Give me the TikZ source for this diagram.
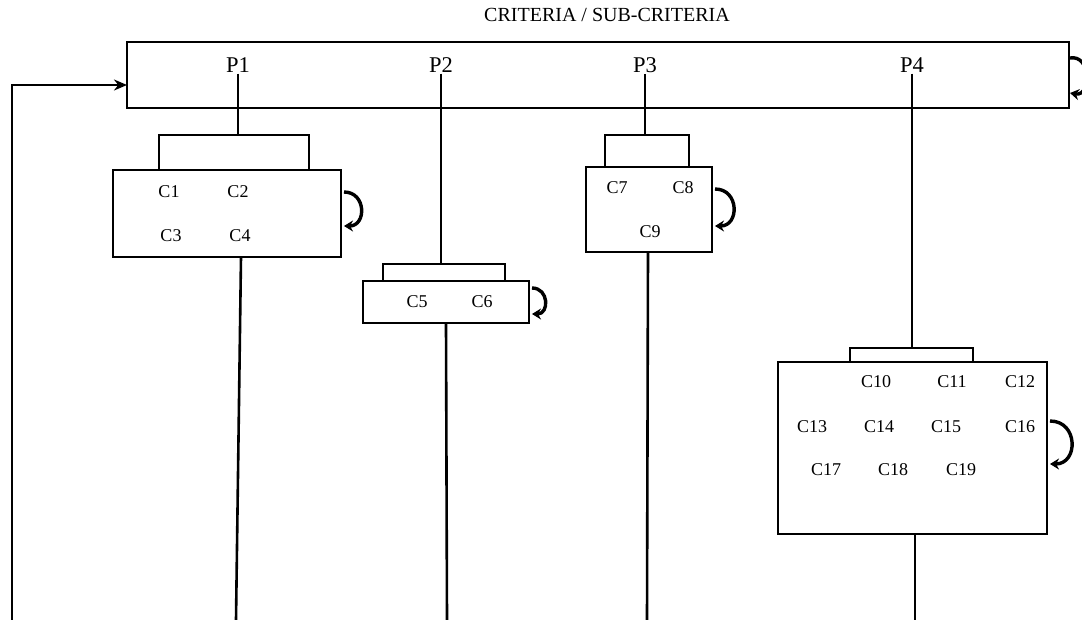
\documentclass[tikz,border=0pt]{standalone}
\usepackage{fontspec}
\setmainfont{Liberation Serif}
\usetikzlibrary{arrows.meta}
\begin{document}
\begin{tikzpicture}[x=1pt,y=-1pt,
  box/.style={draw,line width=2pt,minimum width=#1,inner sep=0pt},
  lbl/.style={font=\fontsize{18}{18}\selectfont,inner sep=1pt},
  plbl/.style={font=\fontsize{22.5}{22.5}\selectfont,inner sep=1pt},
  link/.style={line width=2.6pt},
  selfloop/.style={line width=3.4pt,-{Stealth[length=9pt,width=11pt]}},
  feed/.style={line width=2.6pt,-{Stealth[length=13pt,width=11pt]}}]
\useasboundingbox (0,0) rectangle (1082,620);
% title
\node[font=\fontsize{20}{20}\selectfont] (title) at (607,15) {CRITERIA / SUB-CRITERIA};
% main box
\node[box=942pt,minimum height=66pt] (main) at (598,75) {};
\node[plbl] (P1) at (238,65) {P1};
\node[plbl] (P2) at (441,65) {P2};
\node[plbl] (P3) at (645,65) {P3};
\node[plbl] (P4) at (912,65) {P4};
\draw[selfloop] (1070,58) to[out=10,in=-10,looseness=1.6] (1070,93);
% feedback arrow
\coordinate (fb) at (12,620);
\coordinate (mainin) at (127,85);
\draw[feed] (fb) |- (mainin);
% boxes
\node[box=228pt,minimum height=87pt] (b1) at (227,213.5) {};
\node[box=166pt,minimum height=42pt] (b2) at (446,302) {};
\node[box=126pt,minimum height=85pt] (b3) at (649,209.5) {};
\node[box=269pt,minimum height=172pt] (b4) at (912.5,448) {};
% labels
\node[lbl] (c1) at (169,192) {C1};
\node[lbl] (c2) at (238,192) {C2};
\node[lbl] (c3) at (171,236) {C3};
\node[lbl] (c4) at (240,236) {C4};
\node[lbl] (c5) at (417,302) {C5};
\node[lbl] (c6) at (482,302) {C6};
\node[lbl] (c7) at (617,188) {C7};
\node[lbl] (c8) at (683,188) {C8};
\node[lbl] (c9) at (650,232) {C9};
\node[lbl] (c10) at (876,382) {C10};
\node[lbl] (c11) at (952,382) {C11};
\node[lbl] (c12) at (1020,382) {C12};
\node[lbl] (c13) at (812,427) {C13};
\node[lbl] (c14) at (879,427) {C14};
\node[lbl] (c15) at (946,427) {C15};
\node[lbl] (c16) at (1020,427) {C16};
\node[lbl] (c17) at (826,470) {C17};
\node[lbl] (c18) at (893,470) {C18};
\node[lbl] (c19) at (961,470) {C19};
% brackets
\coordinate (k1) at (238,135);
\coordinate (k2) at (441,264);
\coordinate (k3) at (645,135);
\coordinate (k4) at (912,348);
\draw[link] (P1.south) -- (k1);
\draw[link] (P2.south) -- (k2);
\draw[link] (P3.south) -- (k3);
\draw[link] (P4.south) -- (k4);
\draw[link] (159,170) -- (159,135) -- (309,135) -- (309,170);
\draw[link] (383,281) -- (383,264) -- (505,264) -- (505,281);
\draw[link] (605,167) -- (605,135) -- (689,135) -- (689,167);
\draw[link] (850,362) -- (850,348) -- (973,348) -- (973,362);
% self loops
\draw[selfloop] (344,192) to[out=0,in=0,looseness=1.7] (344,226);
\draw[selfloop] (532,288) to[out=0,in=0,looseness=1.7] (532,314);
\draw[selfloop] (715,189) to[out=0,in=0,looseness=1.7] (715,226);
\draw[selfloop] (1050,421) to[out=0,in=0,looseness=1.7] (1050,464);
% bottom lines
\coordinate (e1) at (236,620);
\coordinate (e2) at (447,620);
\coordinate (e3) at (647,620);
\coordinate (e4) at (915,620);
\draw[link] (241,257) -- (e1);
\draw[link] (b2.south) -- (e2);
\draw[link] (648,252) -- (e3);
\draw[link] (b4.south -| e4) -- (e4);
\end{tikzpicture}
\end{document}
